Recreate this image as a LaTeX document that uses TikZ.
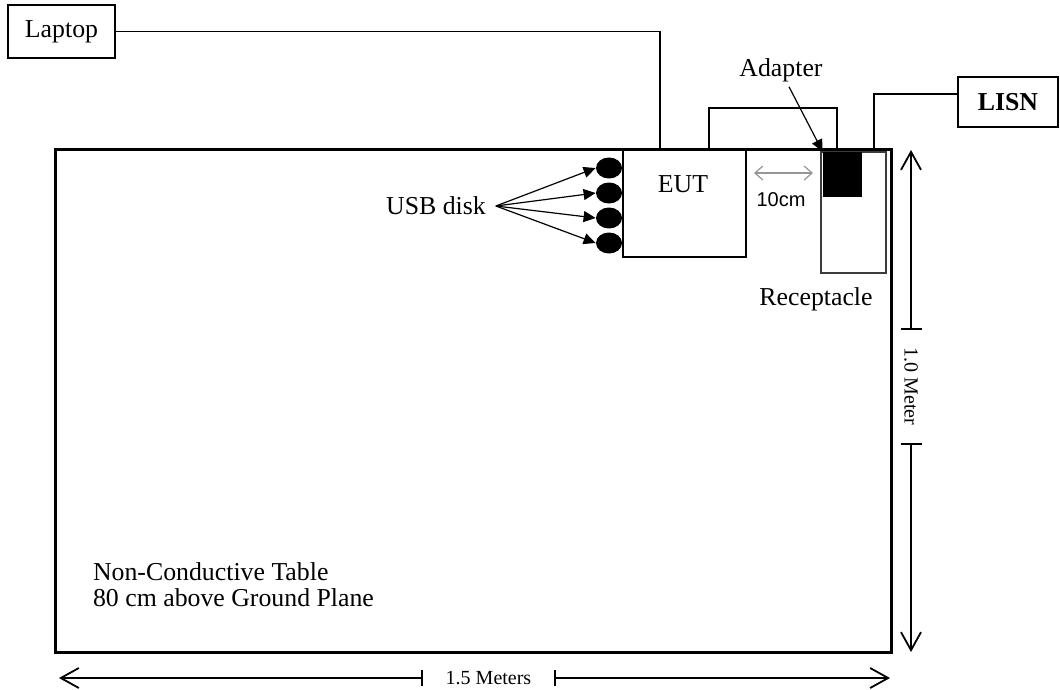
\documentclass[tikz,border=0pt]{standalone}
\usepackage{fontspec}
\setmainfont{Liberation Serif}
\setsansfont{Liberation Sans}
\usetikzlibrary{arrows.meta,positioning,calc,shapes.geometric}
\definecolor{dimgrey}{RGB}{150,150,150}
\definecolor{rimgrey}{RGB}{60,60,60}

\begin{document}
\begin{tikzpicture}[x=0.5pt, y=-0.5pt, >=Stealth,
    font=\fontsize{12.9}{14}\selectfont,
    box/.style={draw, line width=0.7pt, inner sep=0pt},
    cable/.style={line width=0.6pt},
    powercable/.style={line width=1.4pt},
    usb/.style={ellipse, fill, inner sep=0pt, minimum width=13pt, minimum height=10.5pt},
    pointer/.style={line width=0.6pt, -{Triangle[length=6pt,width=5.5pt]}},
    dimline/.style={line width=0.6pt},
    dimtip/.tip={Straight Barb[length=9pt,width=10pt,line width=0.9pt]},
    small/.style={font=\fontsize{10}{12}\selectfont}]

    \useasboundingbox (0,0) rectangle (1060,690);

    % table
    \node[draw, line width=1.5pt, minimum width=418pt, minimum height=251pt] (table) at (473,401) {};
    \node[anchor=west, align=left, font=\fontsize{12.9}{13}\selectfont] (tabletext) at (86,584.5)
        {Non-Conductive Table\\80 cm above Ground Plane};

    % equipment
    \node[box, minimum width=53.5pt, minimum height=26.5pt] (laptop) at (61.5,31.5) {Laptop};
    \node[box, line width=0.6pt, minimum width=61.5pt, minimum height=53.5pt] (eut) at (684.5,203.5) {};
    \node (euttext) at (683,184) {EUT};
    \node[draw=rimgrey, line width=0.6pt, inner sep=0pt, minimum width=32.5pt, minimum height=60.5pt] (recept) at (853.5,212.5) {};
    \node[fill, inner sep=0pt, minimum width=19.5pt, minimum height=22.5pt] (adapter) at (842.5,174.5) {};
    \node[box, minimum width=50pt, minimum height=25pt] (lisn) at (1008,102) {\textbf{LISN}};

    % USB disks
    \foreach \i/\y in {1/168,2/193,3/218,4/243}
        \node[usb] (usb\i) at (609,\y) {};
    \node (usblabel) at (436,206) {USB disk};
    \foreach \i in {1,...,4}
        \draw[pointer] ($(usblabel.east)+(3,0)$) -- (usb\i.west);

    % labels
    \node (adplabel) at (781,70) {Adapter};
    \draw[pointer] ($(adplabel.south)+(8,-2)$) -- (adapter.north west);
    \node[anchor=base] (recplabel) at (816,305) {Receptacle};

    % cables
    \coordinate (eutlap) at (660,150);
    \coordinate (eutpwr) at (709,150);
    \coordinate (adppwr) at (837,150);
    \coordinate (recpwr) at (874,150);
    \coordinate (lisnin) at (lisn.west |- 0,94);
    \draw[cable] (laptop.east) -| (eutlap);
    \draw[cable] (eutpwr) -- ++(0,-42) -| (adppwr);
    \draw[powercable] (recpwr) |- (lisnin);

    % 10 cm spacing
    \draw[dimgrey, line width=0.6pt, {Straight Barb[length=4pt,width=7pt]}-{Straight Barb[length=4pt,width=7pt]}]
        (754,173) -- (813,173);
    \node[font=\sffamily\fontsize{10}{12}\selectfont] (gaplabel) at (781,200) {10cm};

    % 1.0 meter
    \coordinate (vtop) at (911,150);
    \coordinate (vbot) at (911,652);
    \node[small, rotate=-90, inner sep=0pt, minimum width=56.5pt] (vlabel) at (911,386.5) {1.0 Meter};
    \draw[dimline, {dimtip}-{Bar[width=10.5pt]}] (vtop) -- (vlabel.west);
    \draw[dimline, {Bar[width=10.5pt]}-{dimtip}] (vlabel.east) -- (vbot);

    % 1.5 meters
    \coordinate (hleft) at (59,678);
    \coordinate (hright) at (890,678);
    \node[small, inner sep=0pt, minimum width=65.5pt] (hlabel) at (488.5,678) {1.5 Meters};
    \draw[dimline, {dimtip}-{Bar[width=8pt]}] (hleft) -- (hlabel.west);
    \draw[dimline, {Bar[width=8pt]}-{dimtip}] (hlabel.east) -- (hright);

\end{tikzpicture}
\end{document}
